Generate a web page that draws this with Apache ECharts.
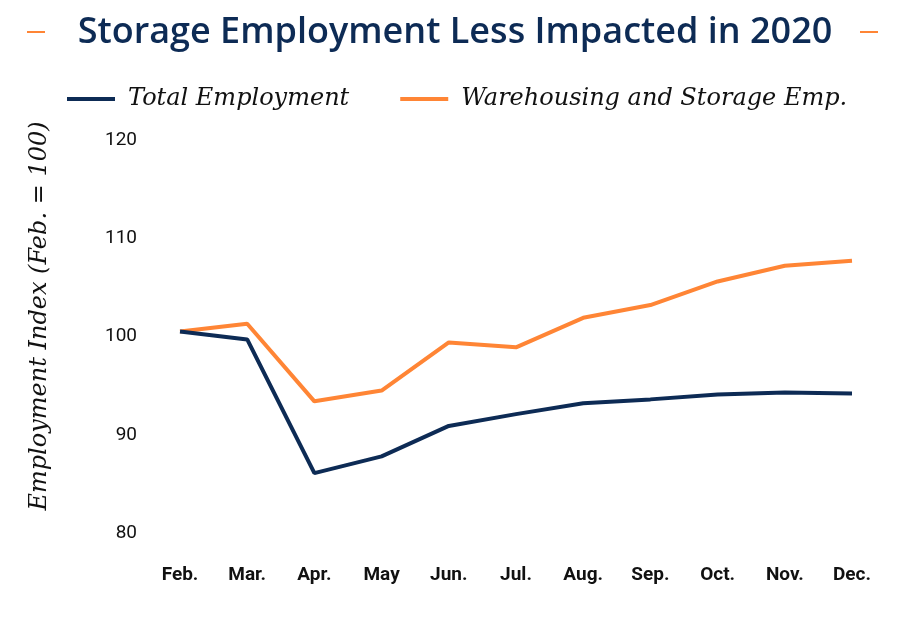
<!DOCTYPE html>
<html><head><meta charset="utf-8">
<script src="https://cdn.jsdelivr.net/npm/echarts@6/dist/echarts.min.js"></script>
<style>html,body{margin:0;padding:0;background:#fff}#c{width:910px;height:620px}</style>
</head><body><div id="c"></div>
<script>
const months = ['Feb.','Mar.','Apr.','May','Jun.','Jul.','Aug.','Sep.','Oct.','Nov.','Dec.'];
const totalEmployment = [100.5, 99.7, 86.1, 87.8, 90.9, 92.1, 93.2, 93.6, 94.1, 94.3, 94.2];
const warehousingEmployment = [100.5, 101.3, 93.4, 94.5, 99.4, 98.9, 101.9, 103.2, 105.6, 107.2, 107.7];
const yTicks = [80, 90, 100, 110, 120];
const yAxisTitle = 'Employment Index (Feb. = 100)';

const navy = '#0d2b55', orange = '#ff8535';
const chart = echarts.init(document.getElementById('c'));
chart.setOption({
  backgroundColor: '#fff',
  animation: false,
  title: {
    text: 'Storage Employment Less Impacted in 2020',
    left: 'center', top: 10,
    textStyle: { color: navy, fontSize: 36, fontWeight: 600, fontFamily: 'Open Sans' }
  },
  graphic: [
    { type: 'line', shape: { x1: 27, y1: 32, x2: 45, y2: 32 }, style: { stroke: orange, lineWidth: 2 } },
    { type: 'line', shape: { x1: 860, y1: 32, x2: 878, y2: 32 }, style: { stroke: orange, lineWidth: 2 } },
    { type: 'text', x: 40, y: 316, rotation: Math.PI / 2,
      style: { text: yAxisTitle, align: 'center', verticalAlign: 'middle', fill: '#111',
               font: 'italic 24px "DejaVu Serif"' } }
  ],
  legend: {
    top: 82, left: 62,
    itemGap: 51, itemWidth: 48, itemHeight: 4,
    icon: 'rect',
    textStyle: { fontFamily: 'DejaVu Serif', fontStyle: 'italic', fontSize: 24, color: '#111', padding: [0, 0, 0, 8] },
    data: ['Total Employment', 'Warehousing and Storage Emp.']
  },
  grid: { left: 180, right: 58, top: 140, bottom: 87 },
  xAxis: {
    type: 'category', data: months, boundaryGap: false,
    axisLine: { show: false }, axisTick: { show: false },
    axisLabel: { margin: 33, color: '#111', fontSize: 19, fontWeight: 'bold', fontFamily: 'Liberation Sans Narrow, Roboto' }
  },
  yAxis: {
    type: 'value', min: yTicks[0], max: yTicks[yTicks.length - 1], interval: 10,
    splitLine: { show: false }, axisLine: { show: false }, axisTick: { show: false },
    axisLabel: { margin: 43, color: '#111', fontSize: 19, fontFamily: 'Roboto' }
  },
  series: [
    { name: 'Total Employment', type: 'line', data: totalEmployment, symbol: 'none',
      lineStyle: { color: navy, width: 4 }, itemStyle: { color: navy }, z: 3 },
    { name: 'Warehousing and Storage Emp.', type: 'line', data: warehousingEmployment, symbol: 'none',
      lineStyle: { color: orange, width: 4 }, itemStyle: { color: orange }, z: 2 }
  ]
});
</script></body></html>
